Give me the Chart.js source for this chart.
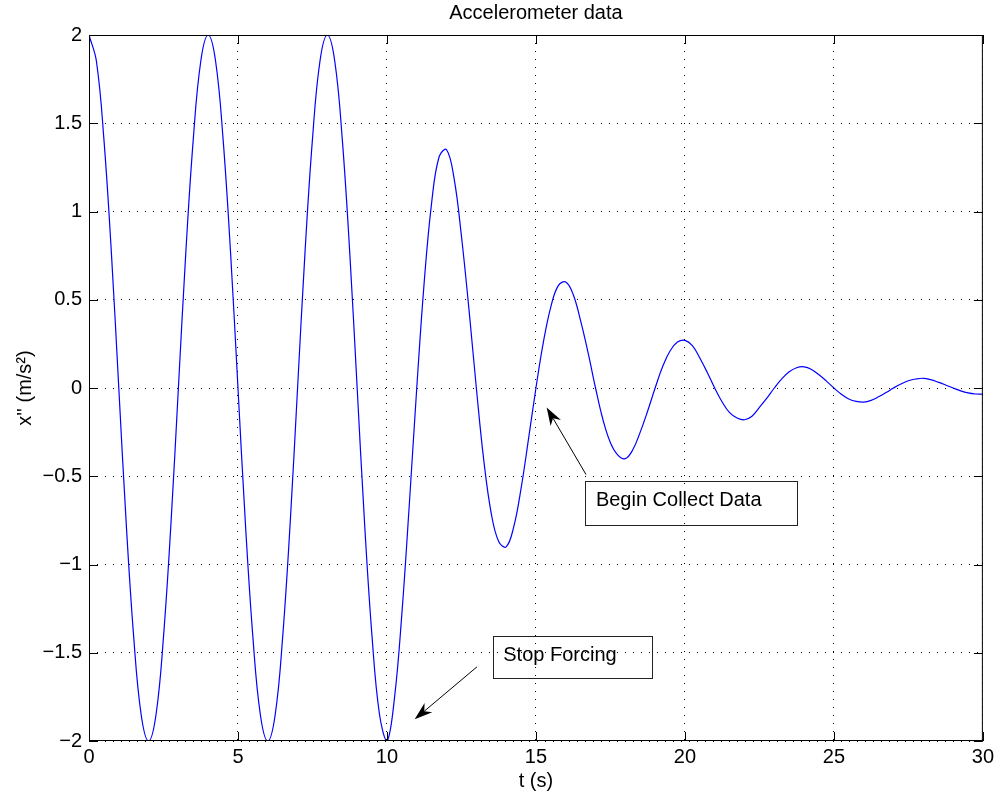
<!DOCTYPE html>
<html>
<head>
<meta charset="utf-8">
<title>Accelerometer data</title>
<script src="https://cdn.jsdelivr.net/npm/chart.js@4.4.1/dist/chart.umd.min.js"></script>
<style>
  html, body { margin: 0; padding: 0; background: #fff; }
  #wrap { width: 998px; height: 795px; }
</style>
</head>
<body>
<div id="wrap"><canvas id="accelChart"></canvas></div>
<script>
// ------------------------------------------------------------
// Data (t in s, x'' in m/s^2), every 0.25 s
// ------------------------------------------------------------
const timeValues = [
  0, 0.25, 0.5, 0.75, 1, 1.25, 1.5, 1.75, 2, 2.25, 2.5, 2.75,
  3, 3.25, 3.5, 3.75, 4, 4.25, 4.5, 4.75, 5, 5.25, 5.5, 5.75,
  6, 6.25, 6.5, 6.75, 7, 7.25, 7.5, 7.75, 8, 8.25, 8.5, 8.75,
  9, 9.25, 9.5, 9.75, 10, 10.25, 10.5, 10.75, 11, 11.25, 11.5, 11.75,
  12, 12.25, 12.5, 12.75, 13, 13.25, 13.5, 13.75, 14, 14.25, 14.5, 14.75,
  15, 15.25, 15.5, 15.75, 16, 16.25, 16.5, 16.75, 17, 17.25, 17.5, 17.75,
  18, 18.25, 18.5, 18.75, 19, 19.25, 19.5, 19.75, 20, 20.25, 20.5, 20.75,
  21, 21.25, 21.5, 21.75, 22, 22.25, 22.5, 22.75, 23, 23.25, 23.5, 23.75,
  24, 24.25, 24.5, 24.75, 25, 25.25, 25.5, 25.75, 26, 26.25, 26.5, 26.75,
  27, 27.25, 27.5, 27.75, 28, 28.25, 28.5, 28.75, 29, 29.25, 29.5, 29.75,
  30
];
const accelValues = [
  2, 1.85, 1.41, 0.77, 0, -0.77, -1.41, -1.85, -2, -1.85, -1.41, -0.77,
  0, 0.77, 1.41, 1.85, 2, 1.85, 1.41, 0.77, 0, -0.77, -1.41, -1.85,
  -2, -1.85, -1.41, -0.77, 0, 0.77, 1.41, 1.85, 2, 1.85, 1.41, 0.77,
  0, -0.77, -1.41, -1.85, -2, -1.76, -1.28, -0.66, 0, 0.60, 1.05, 1.31,
  1.35, 1.19, 0.86, 0.45, 0, -0.41, -0.71, -0.87, -0.90, -0.79, -0.57, -0.29,
  0, 0.26, 0.46, 0.58, 0.60, 0.53, 0.38, 0.20, 0, -0.18, -0.31, -0.38,
  -0.40, -0.35, -0.25, -0.13, 0, 0.12, 0.21, 0.26, 0.27, 0.24, 0.17, 0.088,
  0, -0.079, -0.14, -0.17, -0.18, -0.16, -0.11, -0.058, 0, 0.052, 0.092, 0.115,
  0.12, 0.105, 0.075, 0.039, 0, -0.035, -0.062, -0.076, -0.08, -0.07, -0.05, -0.026,
  0, 0.023, 0.041, 0.051, 0.055, 0.047, 0.033, 0.017, 0, -0.016, -0.028, -0.034,
  -0.035
];
const xTickValues = [0, 5, 10, 15, 20, 25, 30];
const yTickValues = [-2, -1.5, -1, -0.5, 0, 0.5, 1, 1.5, 2];

const FONT = 'Liberation Sans, Arial, Helvetica, sans-serif';
const TICK_LEN = 9;

// Text arrows, in data coordinates
const textArrows = [
  { text: 'Begin Collect Data', tip: [15.36, -0.11], tail: [16.68, -0.49], box: [16.66, -0.525, 23.78, -0.776] },
  { text: 'Stop Forcing', tip: [10.93, -1.877], tail: [13.02, -1.58], box: [13.55, -1.403, 18.88, -1.643] }
];

/**
 * MATLAB-like axes box: full frame, inward ticks and text arrows
 */
const matlabAxesPlugin = {
  id: 'matlabAxes',
  afterDatasetsDraw(chart) {
    const { ctx, chartArea: a, scales: { x, y } } = chart;
    ctx.save();
    ctx.strokeStyle = '#000';
    ctx.lineWidth = 1;

    // frame
    ctx.strokeRect(a.left + 0.5, a.top + 0.5, a.right - a.left - 1, a.bottom - a.top - 1);

    // inward ticks on all four sides
    ctx.beginPath();
    x.ticks.forEach(t => {
      const px = Math.round(x.getPixelForValue(t.value)) + 0.5;
      ctx.moveTo(px, a.top); ctx.lineTo(px, a.top + TICK_LEN);
      ctx.moveTo(px, a.bottom); ctx.lineTo(px, a.bottom - TICK_LEN);
    });
    y.ticks.forEach(t => {
      const py = Math.round(y.getPixelForValue(t.value)) + 0.5;
      ctx.moveTo(a.left, py); ctx.lineTo(a.left + TICK_LEN, py);
      ctx.moveTo(a.right, py); ctx.lineTo(a.right - TICK_LEN, py);
    });
    ctx.stroke();

    // text arrows
    textArrows.forEach(an => {
      const tx = x.getPixelForValue(an.tip[0]), ty = y.getPixelForValue(an.tip[1]);
      const sx = x.getPixelForValue(an.tail[0]), sy = y.getPixelForValue(an.tail[1]);
      const len = Math.hypot(tx - sx, ty - sy);
      const ux = (tx - sx) / len, uy = (ty - sy) / len;
      const headLen = 18, halfW = 6;
      const bx = tx - ux * headLen, by = ty - uy * headLen;

      ctx.beginPath();
      ctx.moveTo(sx, sy);
      ctx.lineTo(tx - ux * headLen * 0.7, ty - uy * headLen * 0.7);
      ctx.stroke();

      ctx.beginPath();
      ctx.moveTo(tx, ty);
      ctx.lineTo(bx - uy * halfW, by + ux * halfW);
      ctx.lineTo(tx - ux * headLen * 0.7, ty - uy * headLen * 0.7);
      ctx.lineTo(bx + uy * halfW, by - ux * halfW);
      ctx.closePath();
      ctx.fillStyle = '#000';
      ctx.fill();

      const l = x.getPixelForValue(an.box[0]), tp = y.getPixelForValue(an.box[1]);
      const r = x.getPixelForValue(an.box[2]), bt = y.getPixelForValue(an.box[3]);
      ctx.strokeStyle = '#222';
      ctx.strokeRect(Math.round(l) + 0.5, Math.round(tp) + 0.5, Math.round(r - l), Math.round(bt - tp));
      ctx.strokeStyle = '#000';

      ctx.fillStyle = '#000';
      ctx.font = '20px ' + FONT;
      ctx.textAlign = 'left';
      ctx.textBaseline = 'alphabetic';
      ctx.fillText(an.text, l + 10.5, tp + 25.5);
    });
    ctx.restore();
  }
};

const minusSign = v => String(v).replace('-', '\u2212');

new Chart(document.getElementById('accelChart'), {
  type: 'line',
  plugins: [matlabAxesPlugin],
  data: {
    datasets: [{
      label: "x''",
      data: timeValues.map((t, i) => ({ x: t, y: accelValues[i] })),
      borderColor: '#0000ff',
      borderWidth: 1.2,
      pointRadius: 0,
      fill: false,
      tension: 0.4
    }]
  },
  options: {
    responsive: true,
    maintainAspectRatio: false,
    animation: false,
    layout: { padding: { top: 0, left: 0, right: 14, bottom: 0 } },
    plugins: {
      legend: { display: false },
      tooltip: { enabled: false },
      title: {
        display: true,
        fullSize: false,
        text: 'Accelerometer data',
        color: '#000',
        font: { family: FONT, size: 20, weight: 'normal', lineHeight: 1.2 },
        padding: { top: 1, bottom: 10 }
      }
    },
    scales: {
      x: {
        type: 'linear',
        min: 0,
        max: 30,
        afterBuildTicks: s => { s.ticks = xTickValues.map(v => ({ value: v })); },
        afterFit: s => { s.height = 54; },
        ticks: {
          color: '#000',
          padding: 4,
          maxRotation: 0,
          font: { family: FONT, size: 20 },
          callback: v => minusSign(v)
        },
        grid: { color: '#000', lineWidth: 1, drawTicks: false, tickLength: 0 },
        border: { display: false, dash: [1, 7] },
        title: {
          display: true,
          text: 't (s)',
          color: '#000',
          font: { family: FONT, size: 20, lineHeight: 1.2 },
          padding: { top: 0, bottom: 2 }
        }
      },
      y: {
        type: 'linear',
        min: -2,
        max: 2,
        afterBuildTicks: s => { s.ticks = yTickValues.map(v => ({ value: v })); },
        afterFit: s => { s.width = 89; },
        ticks: {
          color: '#000',
          padding: 7,
          font: { family: FONT, size: 20 },
          callback: v => minusSign(v)
        },
        grid: { color: '#000', lineWidth: 1, drawTicks: false, tickLength: 0 },
        border: { display: false, dash: [1, 7] },
        title: {
          display: true,
          text: "x'' (m/s\u00b2)",
          color: '#000',
          font: { family: FONT, size: 20, lineHeight: 1.2 },
          padding: { top: 13, bottom: 0 }
        }
      }
    }
  }
});
</script>
</body>
</html>
